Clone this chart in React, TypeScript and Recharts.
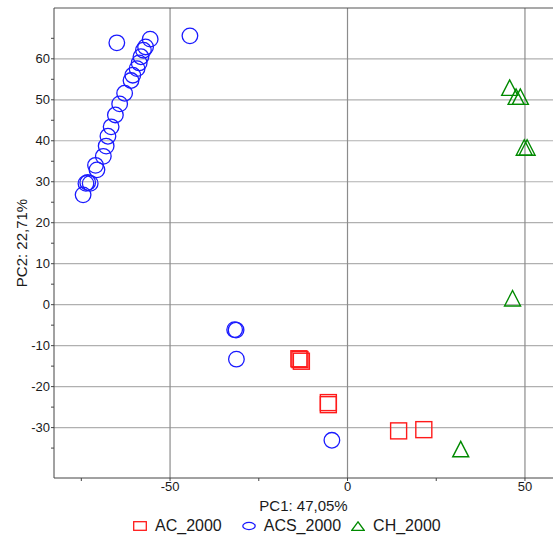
import React from 'react';
import { ScatterChart, Scatter, XAxis, YAxis, ReferenceLine, Legend, Label } from 'recharts';

// ---- data ----
const acPoints: [number, number][] = [
  [-13.7, -13.2], [-13.4, -13.4], [-13.0, -13.8],
  [-5.4, -23.9], [-5.4, -24.4],
  [14.4, -30.8], [21.5, -30.5],
];
const acsPoints: [number, number][] = [
  [-55.6, 64.8], [-56.9, 62.9], [-57.5, 62.1], [-58.2, 60.5], [-58.7, 59.0],
  [-59.3, 57.6], [-60.5, 56.0], [-61.0, 54.7], [-62.8, 51.6], [-64.2, 49.0],
  [-65.4, 46.3], [-66.6, 43.4], [-67.5, 41.1], [-68.0, 38.7], [-68.8, 36.2],
  [-71.0, 34.0], [-70.6, 32.9], [-72.5, 29.6], [-73.2, 29.8], [-73.7, 29.6],
  [-74.5, 26.8], [-65.0, 63.9], [-44.4, 65.6],
  [-31.8, -6.1], [-31.4, -6.2], [-31.3, -13.3], [-4.4, -33.1],
];
const chPoints: [number, number][] = [
  [45.7, 52.9], [47.5, 50.7], [48.7, 50.7],
  [49.8, 38.3], [50.6, 38.3],
  [46.5, 1.5], [31.9, -35.3],
];
const seriesNames = ['AC_2000', 'ACS_2000', 'CH_2000'];
const xDomain: [number, number] = [-82.7, 57.9];
const yDomain: [number, number] = [-42.3, 72.4];
const xTicks = [-75, -50, -25, 0, 25, 50];
const yTicks = [-35, -30, -25, -20, -15, -10, -5, 0, 5, 10, 15, 20, 25, 30, 35, 40, 45, 50, 55, 60, 65];
const xGrid = [-50, 0, 50];
const yGrid = [-30, -20, -10, 0, 10, 20, 30, 40, 50, 60];
const xLabel = 'PC1: 47,05%';
const yLabel = 'PC2: 22,71%';

const toData = (pts: [number, number][]) => pts.map(([x, y]) => ({ x, y }));

const RED = '#ff1a1a';
const BLUE = '#1a1aff';
const GREEN = '#008a00';
const FONT = '"Liberation Sans", Arial, sans-serif';
const TEXT = '#1a1a1a';

const SquareShape = (p: any) => (
  <rect x={p.cx - 8} y={p.cy - 8} width={16} height={16} fill="none" stroke={RED} strokeWidth={1.4} />
);
const CircleShape = (p: any) => (
  <circle cx={p.cx} cy={p.cy} r={7.8} fill="none" stroke={BLUE} strokeWidth={1.3} />
);
const TriangleShape = (p: any) => (
  <polygon
    points={`${p.cx},${p.cy - 8} ${p.cx - 8},${p.cy + 7.5} ${p.cx + 8},${p.cy + 7.5}`}
    fill="none" stroke={GREEN} strokeWidth={1.4}
  />
);

const LegendIcon = ({ i }: { i: number }) => (
  <svg width={14} height={10} style={{ display: 'block' }}>
    {i === 0 && <rect x={0.7} y={0.7} width={12.6} height={8.6} fill="none" stroke={RED} strokeWidth={1.3} />}
    {i === 1 && <ellipse cx={7} cy={5} rx={6.2} ry={3.6} fill="none" stroke={BLUE} strokeWidth={1.3} />}
    {i === 2 && <polygon points="7,0.8 0.8,9.3 13.2,9.3" fill="none" stroke={GREEN} strokeWidth={1.3} />}
  </svg>
);

const legendGaps = [0, 20, 10];

const LegendContent = () => (
  <div style={{ display: 'flex', alignItems: 'center', paddingLeft: 133, fontFamily: FONT, fontSize: 16, color: TEXT, lineHeight: '20px' }}>
    {seriesNames.map((n, i) => (
      <div key={n} style={{ display: 'flex', alignItems: 'center', marginLeft: legendGaps[i] }}>
        <LegendIcon i={i} />
        <span style={{ marginLeft: 8 }}>{n}</span>
      </div>
    ))}
  </div>
);

const YLabelContent = (props: any) => {
  const vb = props.viewBox || {};
  const cx = 21;
  const cy = vb.y + vb.height / 2;
  return (
    <text x={cx} y={cy} transform={`rotate(-90, ${cx}, ${cy})`} textAnchor="middle" dominantBaseline="central"
      fontFamily={FONT} fontSize={15} fill={TEXT}>{yLabel}</text>
  );
};

export default function App() {
  return (
    <div style={{ position: 'absolute', left: 0, top: 0 }}>
      <ScatterChart width={553} height={536} margin={{ top: 8, right: 0, bottom: 25, left: 0 }}>
        <XAxis
          type="number" dataKey="x" domain={xDomain} ticks={xTicks} allowDataOverflow
          height={33} tickSize={3} tickMargin={1}
          tickFormatter={(v: number) => (v % 50 === 0 ? String(v) : '')}
          tick={{ fontFamily: FONT, fontSize: 13, fill: TEXT }}
          axisLine={{ stroke: '#444' }} tickLine={{ stroke: '#444' }}
        >
          <Label value={xLabel} position="insideBottom" offset={0} style={{ fontFamily: FONT, fontSize: 15, fill: TEXT }} />
        </XAxis>
        <YAxis
          type="number" dataKey="y" domain={yDomain} ticks={yTicks} allowDataOverflow
          width={54} tickSize={3} tickMargin={1}
          tickFormatter={(v: number) => (v % 10 === 0 ? String(v) : '')}
          tick={{ fontFamily: FONT, fontSize: 13, fill: TEXT }}
          axisLine={{ stroke: '#444' }} tickLine={{ stroke: '#444' }}
        >
          <Label content={YLabelContent} />
        </YAxis>
        {yGrid.map(v => (
          <ReferenceLine key={'y' + v} y={v} stroke="#b0b0b0" strokeWidth={1.2} />
        ))}
        {xGrid.map(v => (
          <ReferenceLine key={'x' + v} x={v} stroke="#8c8c8c" strokeWidth={1.2} />
        ))}
        <ReferenceLine y={yDomain[1]} stroke="#555" strokeWidth={1.2} />
        <Legend
          layout="horizontal" verticalAlign="middle" align="center"
          wrapperStyle={{ position: 'absolute', top: 516, left: 0, width: 553, height: 20 }}
          content={LegendContent}
        />
        <Scatter name={seriesNames[0]} data={toData(acPoints)} shape={SquareShape} isAnimationActive={false} />
        <Scatter name={seriesNames[1]} data={toData(acsPoints)} shape={CircleShape} isAnimationActive={false} />
        <Scatter name={seriesNames[2]} data={toData(chPoints)} shape={TriangleShape} isAnimationActive={false} />
      </ScatterChart>
    </div>
  );
}
